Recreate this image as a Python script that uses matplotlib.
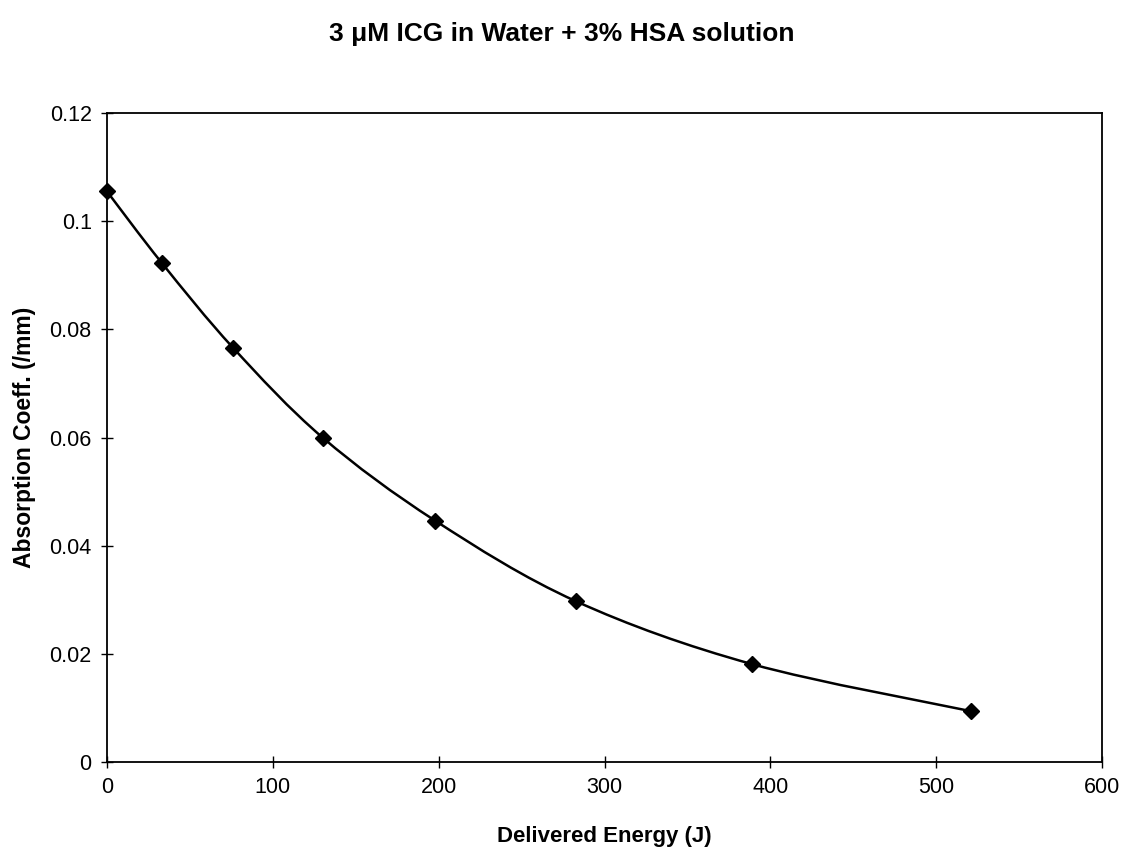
"""
Photobleaching of ICG in water + 3% HSA: absorption coefficient vs delivered energy
"""

import numpy as np
import matplotlib
matplotlib.use("Agg")
import matplotlib.pyplot as plt
from matplotlib.path import Path
from matplotlib.patches import PathPatch

plt.rcParams['font.family'] = ['Liberation Sans', 'DejaVu Sans']

# Measured points
energy_j = [0, 33, 76, 130, 198, 283, 389, 521]
absorption_mm = [0.1055, 0.0923, 0.0766, 0.0600, 0.0446, 0.0297, 0.0181, 0.0094]

x_ticks = [0, 100, 200, 300, 400, 500, 600]
y_ticks = [0, 0.02, 0.04, 0.06, 0.08, 0.1, 0.12]
y_tick_labels = ['0', '0.02', '0.04', '0.06', '0.08', '0.1', '0.12']


def smooth_path(xs, ys):
    """Catmull-Rom style cubic Bezier through the points (spreadsheet 'smoothed line')."""
    pts = np.column_stack([xs, ys]).astype(float)
    n = len(pts)
    verts = [pts[0]]
    codes = [Path.MOVETO]
    for i in range(n - 1):
        p0 = pts[i - 1] if i > 0 else pts[i]
        p1 = pts[i]
        p2 = pts[i + 1]
        p3 = pts[i + 2] if i + 2 < n else pts[i + 1]
        c1 = p1 + (p2 - p0) / 6.0
        c2 = p2 - (p3 - p1) / 6.0
        verts += [c1, c2, p2]
        codes += [Path.CURVE4] * 3
    return Path(verts, codes)


fig = plt.figure(figsize=(11.23, 8.5), dpi=100)
ax = fig.add_axes([0.0953, 0.1035, 0.886, 0.7635])

ax.add_patch(PathPatch(smooth_path(energy_j, absorption_mm), facecolor='none',
                       edgecolor='black', linewidth=1.8, zorder=2))
ax.plot(energy_j, absorption_mm, linestyle='none', marker='D', markersize=8.5,
        color='black', zorder=3, clip_on=False)

ax.set_xlim(0, 600)
ax.set_ylim(0, 0.12)
ax.set_xticks(x_ticks)
ax.set_yticks(y_ticks)
ax.set_yticklabels(y_tick_labels)
ax.tick_params(direction='inout', length=8, width=1.0, labelsize=15.5, pad=7)

for side in ax.spines.values():
    side.set_linewidth(1.3)

ax.set_xlabel('Delivered Energy (J)', fontsize=16, fontweight='bold', labelpad=20)
ax.set_ylabel('Absorption Coeff. (/mm)', fontsize=16.5, fontweight='bold', labelpad=10)
fig.suptitle('3 \u03bcM ICG in Water + 3% HSA solution', fontsize=19,
             fontweight='bold', y=0.974)

fig.savefig('out.png', dpi=100)
